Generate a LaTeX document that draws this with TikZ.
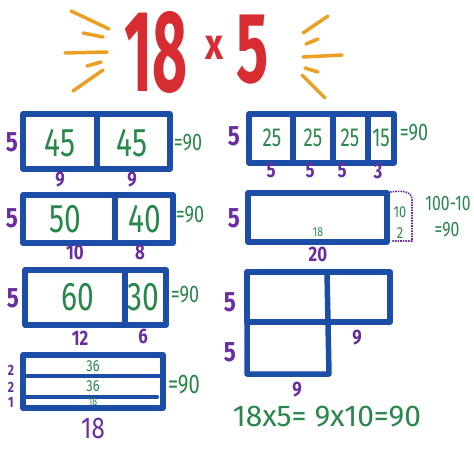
\documentclass[tikz,border=0pt]{standalone}
\usepackage{fontspec}
\setmainfont{Fira Sans}
\definecolor{markblue}{RGB}{28,78,168}
\definecolor{markgreen}{RGB}{40,135,75}
\definecolor{markpurple}{RGB}{105,45,160}
\definecolor{markred}{RGB}{215,45,50}
\definecolor{markorange}{RGB}{235,160,35}

\begin{document}
\begin{tikzpicture}[x=1pt,y=-1pt,
  box/.style={markblue,line width=5.5pt,line join=round,line cap=round},
  ray/.style={markorange,line width=3.5pt,line cap=round},
  big/.style={markgreen,inner sep=0pt,font=\fontsize{40}{40}\selectfont,xscale=0.75},
  mid/.style={markgreen,inner sep=0pt,font=\fontsize{26}{26}\selectfont,xscale=0.72},
  tiny/.style={markgreen,inner sep=0pt,font=\fontsize{16}{16}\selectfont,xscale=0.8},
  eq/.style={markgreen,inner sep=0pt,font=\fontsize{24}{24}\selectfont,xscale=0.75},
  lab/.style={markpurple,inner sep=0pt,font=\fontsize{21}{21}\selectfont\bfseries,xscale=0.8},
  side/.style={lab,font=\fontsize{28}{28}\selectfont\bfseries}]
\useasboundingbox (0,0) rectangle (474,451); % --- picture size

% ----- title with rays
\node[markred,inner sep=0pt,font=\fontsize{116}{116}\selectfont\bfseries,xscale=0.52] (t18) at (156,52) {18};
\node[markred,inner sep=0pt,font=\fontsize{44}{44}\selectfont\bfseries,xscale=0.8] (tx) at (215,48) {x};
\node[markred,inner sep=0pt,font=\fontsize{100}{100}\selectfont\bfseries,xscale=0.6] (t5) at (253,50) {5};
\draw[ray] (71,11) -- (109,29); \draw[ray] (83,33) -- (103,37); \draw[ray] (65,53) -- (107,52);
\draw[ray] (87,66) -- (101,62); \draw[ray] (73,91) -- (103,70); % --- left rays
\draw[ray] (328,16) -- (303,33); \draw[ray] (318,39) -- (306,44); \draw[ray] (303,57) -- (342,55);
\draw[ray] (305,68) -- (318,72); \draw[ray] (302,75) -- (325,98); % --- right rays

% ----- 45 + 45
\draw[box] (23,114) rectangle (170,169); \draw[box] (97,114) -- (97,169);
\node[big] (a1) at (60,143) {45}; \node[big] (a2) at (132,143) {45};
\node[side] (ah) at (12,142) {5}; \node[lab] (aw1) at (60,180) {9}; \node[lab] (aw2) at (132,180) {9};
\node[eq] (ar) at (188,143) {=90};

% ----- 50 + 40
\draw[box] (23,195) rectangle (173,243); \draw[box] (115,195) -- (115,243);
\node[big] (b1) at (65,219) {50}; \node[big] (b2) at (145,219) {40};
\node[side] (bh) at (12,218) {5}; \node[lab] (bw1) at (75,252) {10}; \node[lab] (bw2) at (140,252) {8};
\node[eq] (br) at (190,215) {=90};

% ----- 60 + 30
\draw[box] (25,270) rectangle (166,325); \draw[box] (125,270) -- (125,325);
\node[big] (c1) at (78,297) {60}; \node[big] (c2) at (143,297) {30};
\node[side] (ch) at (13,298) {5}; \node[lab] (cw1) at (80,338) {12}; \node[lab] (cw2) at (143,336) {6};
\node[eq] (cr) at (185,295) {=90};

% ----- three strips
\draw[box] (23,355) rectangle (163,408);
\draw[markblue,line width=4pt,line cap=round] (25,376) -- (161,376); \draw[markblue,line width=4pt,line cap=round] (25,397) -- (157,397);
\node[tiny] (d1) at (93,366) {36}; \node[tiny] (d2) at (93,386) {36}; \node[tiny,font=\fontsize{11}{11}\selectfont] (d3) at (93,402) {18};
\node[lab,font=\fontsize{15}{15}\selectfont\bfseries] (dh1) at (11,370) {2};
\node[lab,font=\fontsize{15}{15}\selectfont\bfseries] (dh2) at (11,387) {2};
\node[lab,font=\fontsize{15}{15}\selectfont\bfseries] (dh3) at (11,402) {1};
\node[lab,font=\fontsize{30}{30}\selectfont] (dw) at (93,428) {18};
\node[eq,font=\fontsize{27}{27}\selectfont] (dr) at (184,385) {=90};

% ----- 25 + 25 + 25 + 15
\draw[box] (249,114) rectangle (394,163);
\foreach \xd in {293,333,368} \draw[box] (\xd,114) -- (\xd,163);
\node[mid] (e1) at (272,138) {25}; \node[mid] (e2) at (313,138) {25};
\node[mid] (e3) at (350,138) {25}; \node[mid] (e4) at (381,138) {15};
\node[side] (eh) at (234,136) {5};
\node[lab] (ew1) at (271,171) {5}; \node[lab] (ew2) at (310,171) {5};
\node[lab] (ew3) at (342,171) {5}; \node[lab] (ew4) at (378,171) {3};
\node[eq] (er) at (414,133) {=90};

% ----- 100 - 10
\draw[box] (248,193) rectangle (387,242);
\draw[markpurple,line width=1.6pt,densely dotted] (390,192) .. controls (404,190) and (412,192) .. (412,200) -- (412,241) -- (392,241);
\node[tiny,font=\fontsize{13}{13}\selectfont] (f1) at (318,232) {18};
\node[tiny] (f2) at (400,212) {10}; \node[tiny] (f3) at (400,233) {2};
\node[side] (fh) at (234,218) {5}; \node[lab] (fw) at (318,254) {20};
\node[eq,font=\fontsize{21}{21}\selectfont] (fr1) at (448,203) {100-10};
\node[eq,font=\fontsize{21}{21}\selectfont] (fr2) at (447,230) {=90};

% ----- halving and doubling
\draw[box] (247,322) -- (247,272) -- (390,272) -- (390,322) -- cycle;
\draw[box] (247,322) -- (247,374) -- (329,374) -- (327,272);
\node[side] (gh1) at (230,302) {5}; \node[side] (gh2) at (230,352) {5};
\node[lab] (gw1) at (357,338) {9}; \node[lab] (gw2) at (297,390) {9};
\node[eq,font=\fontsize{30}{30}\selectfont,xscale=1.33] (gr) at (327,417) {18x5= 9x10=90};
\end{tikzpicture}
\end{document}
